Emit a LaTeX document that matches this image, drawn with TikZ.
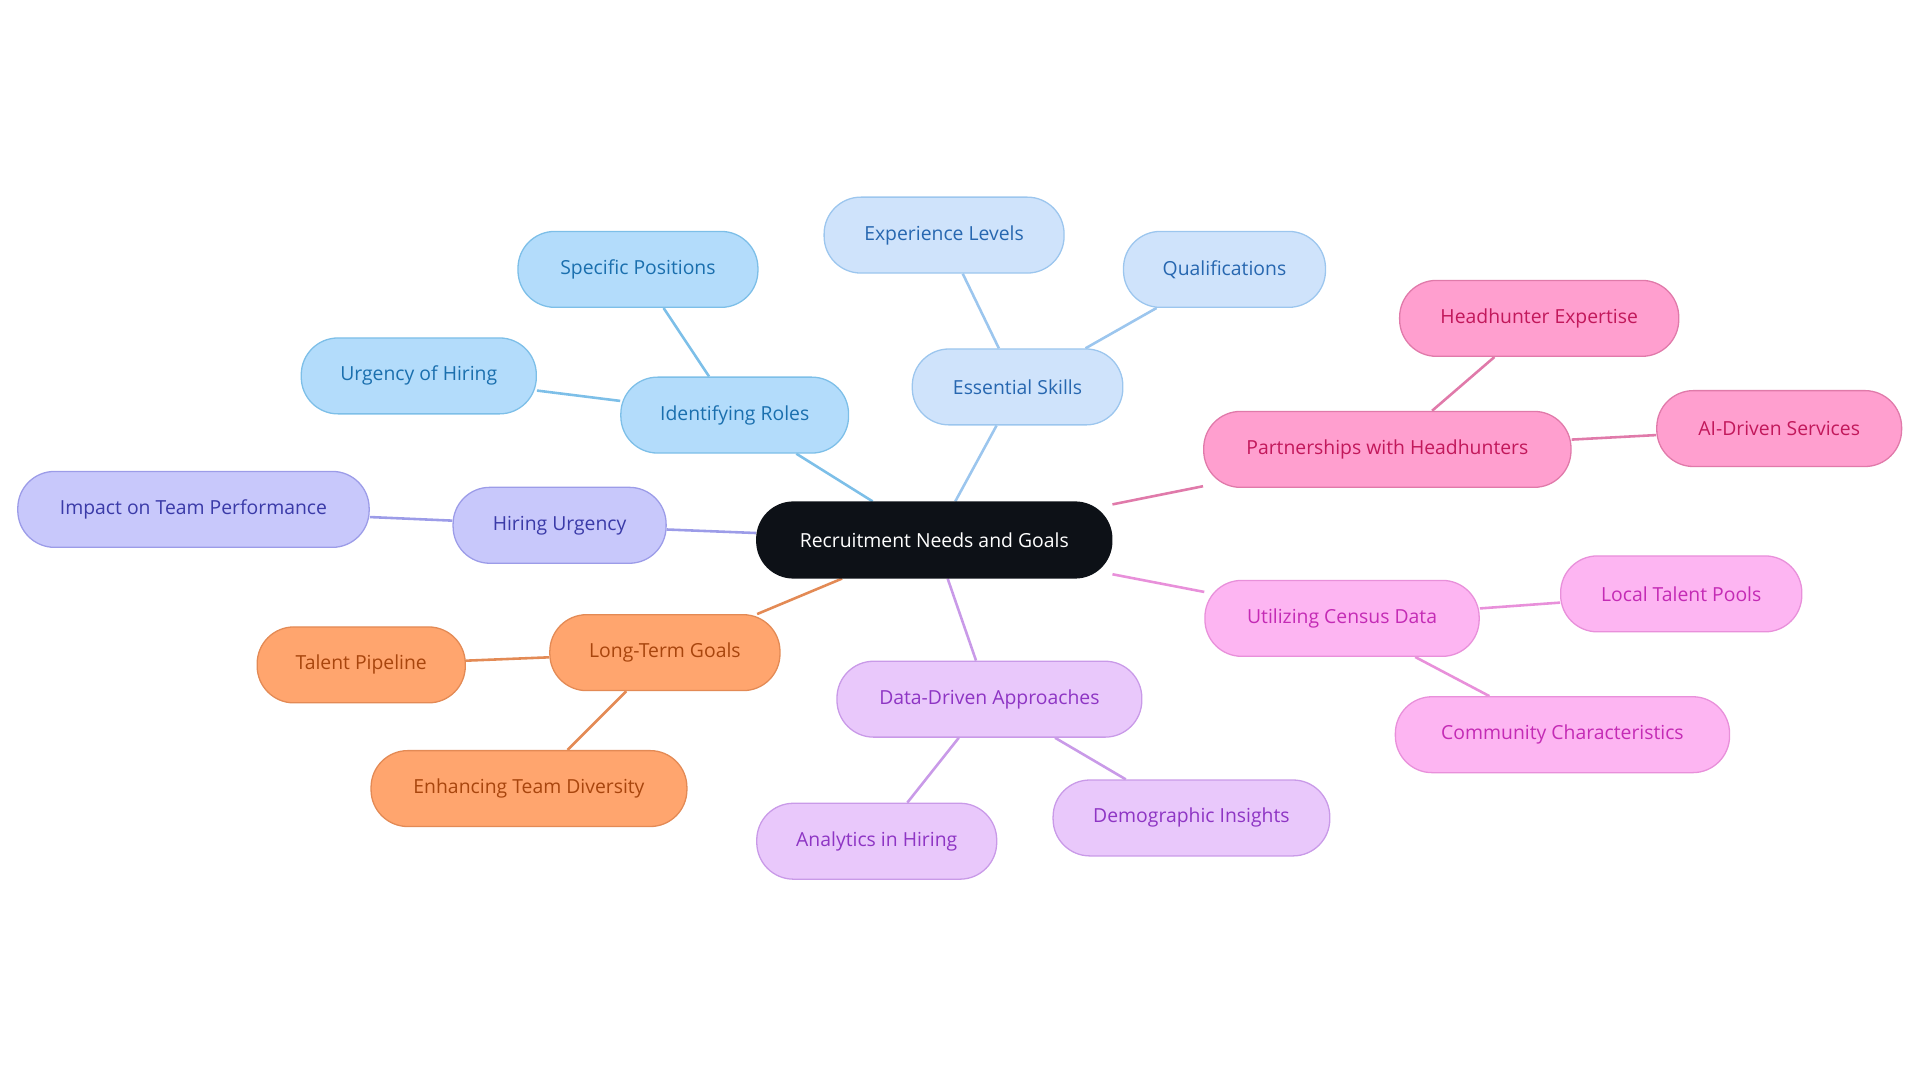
\documentclass[tikz,border=0pt]{standalone}
\usepackage{fontspec}
\setmainfont{Open Sans}
\usetikzlibrary{backgrounds}
\definecolor{rootc}{HTML}{0D1117}
\definecolor{blA}{HTML}{B3DCFB}\definecolor{blAd}{HTML}{7DBFE8}\definecolor{blAt}{HTML}{1A6FAE}
\definecolor{blB}{HTML}{CFE3FB}\definecolor{blBd}{HTML}{9CC6EE}\definecolor{blBt}{HTML}{2767B0}
\definecolor{pkA}{HTML}{FF9FCF}\definecolor{pkAd}{HTML}{E07AAA}\definecolor{pkAt}{HTML}{C2185B}
\definecolor{pkB}{HTML}{FDB5F2}\definecolor{pkBd}{HTML}{E890DA}\definecolor{pkBt}{HTML}{C42BB5}
\definecolor{vi}{HTML}{E9C8FB}\definecolor{vid}{HTML}{C99AE8}\definecolor{vit}{HTML}{8E35C4}
\definecolor{or}{HTML}{FFA56E}\definecolor{ord}{HTML}{E38A55}\definecolor{ort}{HTML}{A8450D}
\definecolor{in}{HTML}{C8C8FB}\definecolor{ind}{HTML}{9C9CE8}\definecolor{int}{HTML}{3A3AA8}
\tikzset{
  topic/.style={draw, rounded corners=0.6cm, minimum height=1.24cm, inner xsep=6pt,
    font=\fontsize{9}{11}\selectfont, line width=0.6pt},
  rootbox/.style={topic, fill=rootc, draw=rootc, text=white},
  tA/.style={topic, fill=blA, draw=blAd, text=blAt},
  tB/.style={topic, fill=blB, draw=blBd, text=blBt},
  tC/.style={topic, fill=pkA, draw=pkAd, text=pkAt},
  tD/.style={topic, fill=pkB, draw=pkBd, text=pkBt},
  tE/.style={topic, fill=vi, draw=vid, text=vit},
  tF/.style={topic, fill=or, draw=ord, text=ort},
  tG/.style={topic, fill=in, draw=ind, text=int},
  link/.style={line width=1.2pt}
}
\begin{document}
\begin{tikzpicture}[x=0.02cm,y=-0.02cm]
  \useasboundingbox (0,0) rectangle (1568,884);
  \node[rootbox, minimum width=5.8cm] (root) at (763,441) {Recruitment Needs and Goals};

  \node[tA, minimum width=3.72cm] (roles) at (600,339) {Identifying Roles};
  \node[tA, minimum width=3.92cm] (spec) at (521,220) {Specific Positions};
  \node[tA, minimum width=3.84cm] (urg) at (342,307) {Urgency of Hiring};

  \node[tB, minimum width=3.44cm] (skills) at (831,316) {Essential Skills};
  \node[tB, minimum width=3.92cm] (exp) at (771,192) {Experience Levels};
  \node[tB, minimum width=3.3cm] (qual) at (1000,220) {Qualifications};

  \node[tC, minimum width=6cm] (part) at (1133,367) {Partnerships with Headhunters};
  \node[tC, minimum width=4.56cm] (head) at (1257,260) {Headhunter Expertise};
  \node[tC, minimum width=4cm] (ai) at (1453,350) {AI-Driven Services};

  \node[tD, minimum width=4.48cm] (census) at (1096,505) {Utilizing Census Data};
  \node[tD, minimum width=3.94cm] (local) at (1373,485) {Local Talent Pools};
  \node[tD, minimum width=5.46cm] (comm) at (1276,600) {Community Characteristics};

  \node[tE, minimum width=4.98cm] (data) at (808,571) {Data-Driven Approaches};
  \node[tE, minimum width=3.92cm] (anal) at (716,687) {Analytics in Hiring};
  \node[tE, minimum width=4.52cm] (demo) at (973,668) {Demographic Insights};

  \node[tF, minimum width=3.76cm] (long) at (543,533) {Long-Term Goals};
  \node[tF, minimum width=3.4cm] (pipe) at (295,543) {Talent Pipeline};
  \node[tF, minimum width=5.16cm] (div) at (432,644) {Enhancing Team Diversity};

  \node[tG, minimum width=3.48cm] (hurg) at (457,429) {Hiring Urgency};
  \node[tG, minimum width=5.74cm] (imp) at (158,416) {Impact on Team Performance};

  \begin{scope}[on background layer]
    \draw[link, blAd] (root) -- (roles) (roles) -- (spec) (roles) -- (urg);
    \draw[link, blBd] (root) -- (skills) (skills) -- (exp) (skills) -- (qual);
    \draw[link, pkAd] (root) -- (part) (part) -- (head) (part) -- (ai);
    \draw[link, pkBd] (root) -- (census) (census) -- (local) (census) -- (comm);
    \draw[link, vid] (root) -- (data) (data) -- (anal) (data) -- (demo);
    \draw[link, ord] (root) -- (long) (long) -- (pipe) (long) -- (div);
    \draw[link, ind] (root) -- (hurg) (hurg) -- (imp);
  \end{scope}
\end{tikzpicture}
\end{document}
